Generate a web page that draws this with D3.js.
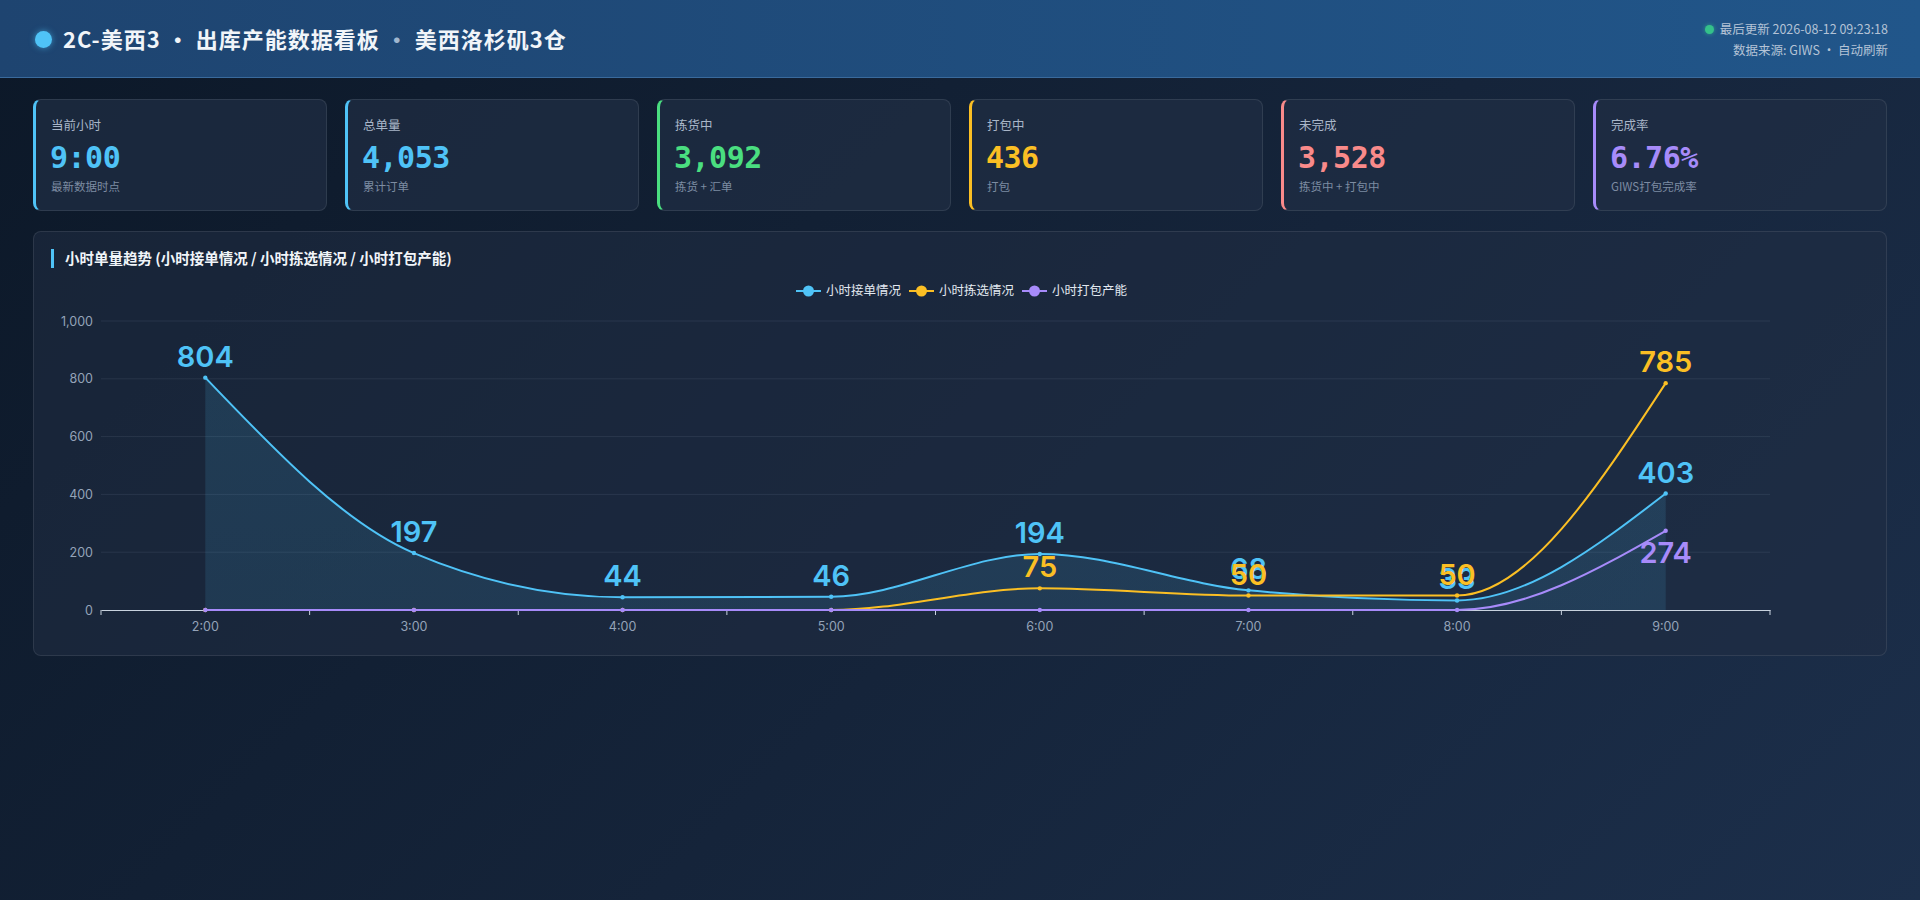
<!DOCTYPE html>
<html>
<head>
<meta charset="utf-8">
<script src="https://cdn.jsdelivr.net/npm/d3@7"></script>
<style>
  body {
    margin: 0;
    width: 1920px;
    height: 900px;
    overflow: hidden;
    background: linear-gradient(135deg, #0c1828 0%, #15243a 55%, #1c2f4b 100%);
    font-family: "Noto Sans CJK SC", "Noto Sans", sans-serif;
    color: #e2e8f0;
  }
  .header {
    height: 78px;
    box-sizing: border-box;
    background: linear-gradient(90deg, #1e4470 0%, #21568a 100%);
    border-bottom: 1px solid #3a6a9c;
    position: relative;
  }
  .header .dot {
    position: absolute; left: 35px; top: 31px;
    width: 17px; height: 17px; border-radius: 50%;
    background: #4fc3f7;
    box-shadow: 0 0 6px rgba(79,195,247,0.6);
  }
  .header .title {
    position: absolute; left: 63px; top: 22px;
    font-size: 22px; font-weight: 700; letter-spacing: 1px; color: #f1f5f9;
  }
  .header .title .sep { color: #9fb6cf; }
  .header .meta {
    position: absolute; right: 32px; top: 18px;
    text-align: right; font-size: 12.5px; color: #b4c3d6; line-height: 21px;
  }
  .header .meta .live {
    display: inline-block; width: 9px; height: 9px; border-radius: 50%;
    background: #34c18a; margin-right: 6px; vertical-align: 0px;
    box-shadow: 0 0 4px rgba(52,193,138,0.7);
  }
  .cards {
    position: absolute; left: 33px; top: 99px; width: 1854px; height: 112px;
    display: flex; gap: 18px;
  }
  .card {
    flex: 1; position: relative; box-sizing: border-box;
    background: rgba(32,46,68,0.72);
    border: 1px solid rgba(255,255,255,0.09);
    border-left: 3px solid;
    border-radius: 8px;
  }
  .card .lbl { position: absolute; left: 15px; top: 15px; font-size: 12.5px; color: #a9b6c8; }
  .card .val { position: absolute; left: 14px; top: 40px; font-size: 30px; font-weight: 700;
    font-family: "DejaVu Sans Mono", monospace; letter-spacing: -0.5px; }
  .card .sub { position: absolute; left: 15px; top: 78px; font-size: 11.5px; color: #7d8ca2; }
  .panel {
    position: absolute; left: 33px; top: 231px; width: 1854px; height: 425px;
    box-sizing: border-box;
    background: rgba(32,46,68,0.55);
    border: 1px solid rgba(255,255,255,0.09);
    border-radius: 8px;
  }
  .panel svg { position: absolute; left: -1px; top: -1px; }
</style>
</head>
<body>
<div class="header">
  <div class="dot"></div>
  <div class="title">2C-美西3 · 出库产能数据看板 <span class="sep">·</span> 美西洛杉矶3仓</div>
  <div class="meta">
    <div><span class="live"></span>最后更新 2026-08-12 09:23:18</div>
    <div>数据来源: GIWS · 自动刷新</div>
  </div>
</div>
<div class="cards" id="cards"></div>
<div class="panel" id="panel"></div>

<script>
// KPI cards
const cardLabels = ["当前小时", "总单量", "拣货中", "打包中", "未完成", "完成率"];
const cardValues = ["9:00", "4,053", "3,092", "436", "3,528", "6.76%"];
const cardSubs = ["最新数据时点", "累计订单", "拣货 + 汇单", "打包", "拣货中 + 打包中", "GIWS打包完成率"];
const cardColors = ["#4fc3f7", "#4fc3f7", "#4ade80", "#fbbf24", "#f98a8a", "#a78bfa"];

// chart data
const hours = ["2:00", "3:00", "4:00", "5:00", "6:00", "7:00", "8:00", "9:00"];
const orders = [804, 197, 44, 46, 194, 68, 33, 403];
const picked = [0, 0, 0, 0, 75, 50, 50, 785];
const packed = [0, 0, 0, 0, 0, 0, 0, 274];
const seriesNames = ["小时接单情况", "小时拣选情况", "小时打包产能"];
const seriesColors = ["#4fc3f7", "#fbbf24", "#a78bfa"];
const yTicks = [0, 200, 400, 600, 800, 1000];

const cards = d3.select("#cards").selectAll(".card")
    .data(cardLabels)
    .join("div")
    .attr("class", "card")
    .style("border-left-color", (d, i) => cardColors[i]);
cards.append("div").attr("class", "lbl").text(d => d);
cards.append("div").attr("class", "val")
    .style("color", (d, i) => cardColors[i])
    .text((d, i) => cardValues[i]);
cards.append("div").attr("class", "sub").text((d, i) => cardSubs[i]);

// chart panel
const W = 1856, H = 427;
const margin = {top: 90, right: 119, bottom: 48, left: 68};
const width = W - margin.left - margin.right,
      height = H - margin.top - margin.bottom;

const svgRoot = d3.select("#panel").append("svg")
    .attr("width", W)
    .attr("height", H);

// title with accent bar
svgRoot.append("rect")
    .attr("x", 18).attr("y", 18).attr("width", 3).attr("height", 19)
    .attr("fill", "#4fc3f7");
svgRoot.append("text")
    .attr("x", 32).attr("y", 33)
    .attr("font-size", "14.5px").attr("font-weight", 700)
    .attr("fill", "#f1f5f9")
    .text("小时单量趋势 (小时接单情况 / 小时拣选情况 / 小时打包产能)");

const defs = svgRoot.append("defs");
const grad = defs.append("linearGradient")
    .attr("id", "areaGrad").attr("x1", 0).attr("y1", 0).attr("x2", 0).attr("y2", 1);
grad.append("stop").attr("offset", "0%").attr("stop-color", "#4fc3f7").attr("stop-opacity", 0.14);
grad.append("stop").attr("offset", "100%").attr("stop-color", "#4fc3f7").attr("stop-opacity", 0.12);

// legend
const legendItemW = [113, 113, 100];
const legendTotal = d3.sum(legendItemW);
const legend = svgRoot.append("g")
    .attr("transform", `translate(${W / 2 - legendTotal / 2 - 2}, 60)`);
let lx = 0;
seriesNames.forEach((name, i) => {
    const g = legend.append("g").attr("transform", `translate(${lx}, 0)`);
    g.append("line").attr("x1", 0).attr("x2", 25).attr("y1", 0).attr("y2", 0)
        .attr("stroke", seriesColors[i]).attr("stroke-width", 2);
    g.append("circle").attr("cx", 12.5).attr("cy", 0).attr("r", 5.5)
        .attr("fill", seriesColors[i]);
    g.append("text").attr("x", 30).attr("y", 0).attr("dy", "0.35em")
        .attr("font-size", "12.5px").attr("fill", "#e2e8f0")
        .text(name);
    lx += legendItemW[i];
});

const svg = svgRoot.append("g")
    .attr("transform", `translate(${margin.left}, ${margin.top})`);

const x = d3.scaleBand()
    .domain(hours)
    .range([0, width]);
const cx = d => x(d) + x.bandwidth() / 2;

const y = d3.scaleLinear()
    .domain([0, 1000])
    .range([height, 0]);

// grid lines
svg.append("g")
    .selectAll("line")
    .data(yTicks.slice(1))
    .join("line")
    .attr("x1", 0).attr("x2", width)
    .attr("y1", d => y(d)).attr("y2", d => y(d))
    .attr("stroke", "rgba(148,163,184,0.13)");

// y axis labels
svg.append("g")
    .call(d3.axisLeft(y).tickValues(yTicks).tickFormat(d3.format(",")).tickSize(0).tickPadding(8))
    .call(g => g.select(".domain").remove())
    .call(g => g.selectAll("text").attr("fill", "#94a3b8").attr("font-size", "12.5px")
        .attr("font-family", "Inter, sans-serif"));

// x axis
const xAxis = svg.append("g")
    .attr("transform", `translate(0, ${height})`)
    .call(d3.axisBottom(x).tickSize(0).tickPadding(12));
xAxis.select(".domain").attr("stroke", "#c8d2de");
xAxis.selectAll("text").attr("fill", "#94a3b8").attr("font-size", "12.5px")
    .attr("font-family", "Inter, sans-serif");
// boundary ticks
xAxis.append("g")
    .selectAll("line")
    .data(d3.range(hours.length + 1))
    .join("line")
    .attr("x1", i => i * x.bandwidth()).attr("x2", i => i * x.bandwidth())
    .attr("y1", 0).attr("y2", 5)
    .attr("stroke", "#c8d2de");

const allSeries = [orders, picked, packed];
const line = d3.line()
    .x((d, i) => cx(hours[i]))
    .y(d => y(d))
    .curve(d3.curveMonotoneX);
const area = d3.area()
    .x((d, i) => cx(hours[i]))
    .y0(y(0))
    .y1(d => y(d))
    .curve(d3.curveMonotoneX);

svg.append("path")
    .datum(orders)
    .attr("d", area)
    .attr("fill", "url(#areaGrad)");

allSeries.forEach((vals, s) => {
    svg.append("path")
        .datum(vals)
        .attr("d", line)
        .attr("fill", "none")
        .attr("stroke", seriesColors[s])
        .attr("stroke-width", 2);
    svg.append("g")
        .selectAll("circle")
        .data(vals)
        .join("circle")
        .attr("cx", (d, i) => cx(hours[i]))
        .attr("cy", d => y(d))
        .attr("r", 2.2)
        .attr("fill", seriesColors[s]);
});

// value labels (zero values hidden, packed labels below the point)
allSeries.forEach((vals, s) => {
    svg.append("g")
        .selectAll("text")
        .data(vals.map((v, i) => ({v, h: hours[i]})).filter(d => d.v > 0))
        .join("text")
        .attr("x", d => cx(d.h))
        .attr("y", d => s === 2 ? y(d.v) + 32 : y(d.v) - 11)
        .attr("text-anchor", "middle")
        .attr("font-family", "Inter, 'Liberation Sans', sans-serif")
        .attr("font-size", "29px")
        .attr("font-weight", 600)
        .attr("fill", seriesColors[s])
        .text(d => d.v);
});
</script>
</body>
</html>
